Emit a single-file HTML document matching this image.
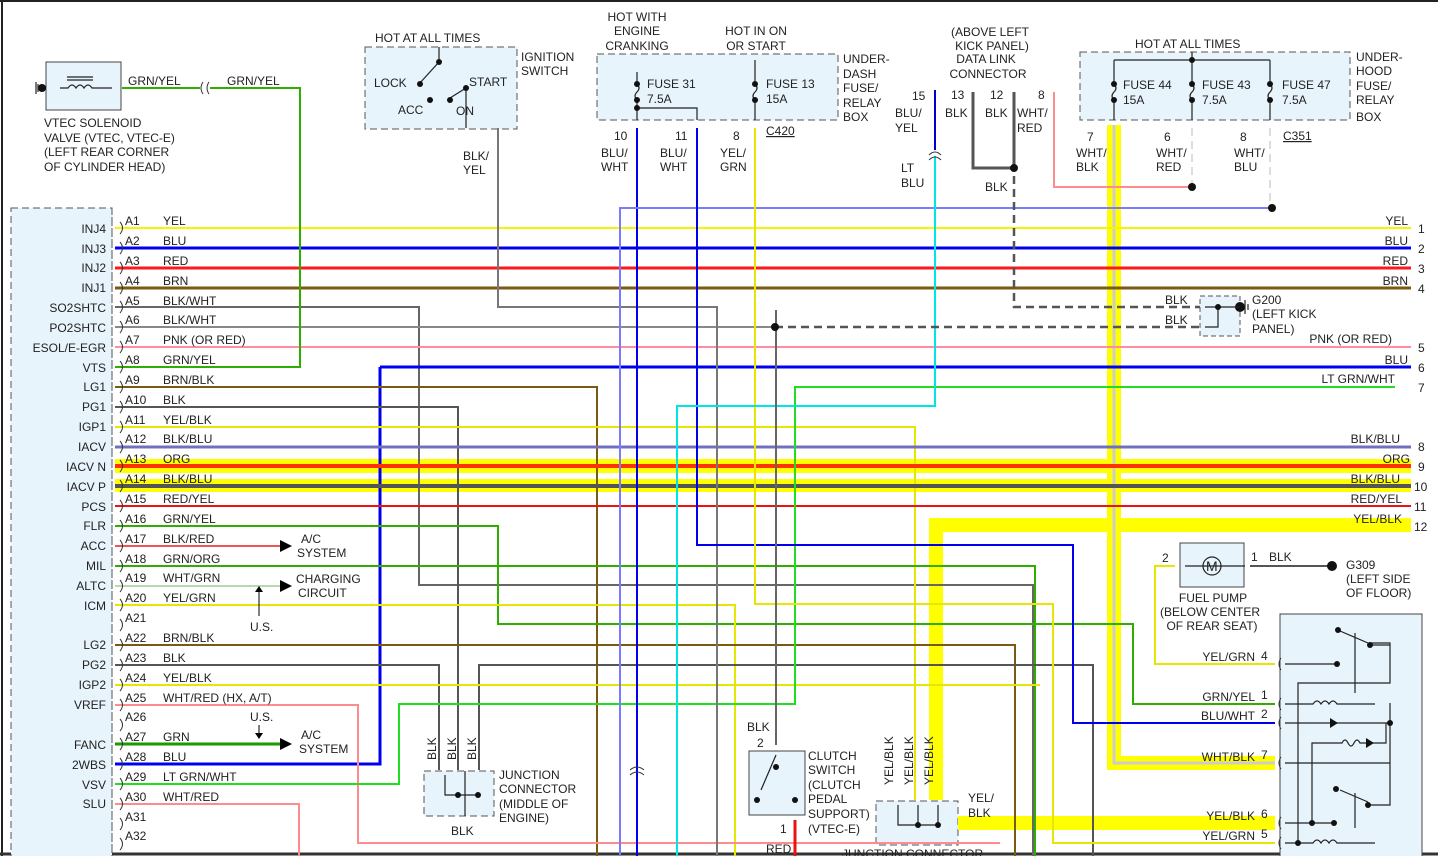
<!DOCTYPE html>
<html><head><meta charset="utf-8"><style>
html,body{margin:0;padding:0;background:#fff}
svg{display:block}
text{font-family:"Liberation Sans",sans-serif;font-size:12px;fill:#222}
.r{text-anchor:end}
.m{text-anchor:middle}
</style></head><body>
<svg width="1438" height="856" viewBox="0 0 1438 856" xmlns="http://www.w3.org/2000/svg">
<rect x="0" y="0" width="1438" height="856" fill="#fff"/>
<line x1="0" y1="1" x2="1438" y2="1" stroke="#222" stroke-width="2"/>
<line x1="2" y1="0" x2="2" y2="856" stroke="#222" stroke-width="2"/>
<line x1="0" y1="854" x2="1438" y2="854" stroke="#333" stroke-width="3"/>

<!-- boxes -->
<rect x="11" y="208" width="101" height="660" fill="#e8f4fc" stroke="#555" stroke-dasharray="7,4"/>
<rect x="46" y="62" width="75" height="48" fill="#e8f4fc" stroke="#444"/>
<rect x="365" y="47" width="152" height="82" fill="#e8f4fc" stroke="#555" stroke-dasharray="7,4"/>
<rect x="597" y="54" width="241" height="66" fill="#e8f4fc" stroke="#555" stroke-dasharray="7,4"/>
<rect x="1080" y="52" width="270" height="68" fill="#e8f4fc" stroke="#555" stroke-dasharray="7,4"/>
<rect x="1200" y="296" width="40" height="40" fill="#e8f4fc" stroke="#555" stroke-dasharray="5,3"/>
<rect x="1180" y="543" width="64" height="44" fill="#e8f4fc" stroke="#444"/>
<rect x="1280" y="614" width="142" height="250" fill="#e8f4fc" stroke="#444"/>
<rect x="424" y="771" width="70" height="45" fill="#e8f4fc" stroke="#555" stroke-dasharray="7,4"/>
<rect x="749" y="751" width="56" height="64" fill="#e8f4fc" stroke="#444"/>
<rect x="876" y="801" width="82" height="44" fill="#e8f4fc" stroke="#555" stroke-dasharray="7,4"/>

<!-- highlighted bands -->
<rect x="115" y="459" width="1296" height="14" fill="#ffff00"/>
<rect x="115" y="479" width="1296" height="13" fill="#ffff00"/>
<rect x="930" y="518" width="481" height="14" fill="#ffff00"/>
<rect x="929" y="518" width="14" height="282" fill="#ffff00"/>
<rect x="958" y="816" width="317" height="14" fill="#ffff00"/>
<rect x="1107" y="125" width="14" height="645" fill="#ffff00"/>
<rect x="1107" y="756" width="168" height="14" fill="#ffff00"/>
<polyline points="1114,125 1114,763 1275,763" fill="none" stroke="#ccc" stroke-width="3"/>

<g fill="none" stroke-width="2">
<line x1="115" y1="228" x2="1411" y2="228" stroke="#f5f500"/>
<line x1="115" y1="248" x2="1411" y2="248" stroke="#0000ee" stroke-width="3"/>
<line x1="115" y1="268" x2="1411" y2="268" stroke="#ff1a1a" stroke-width="3"/>
<line x1="115" y1="288" x2="1411" y2="288" stroke="#7a5a10" stroke-width="3"/>
<polyline points="115,307 419,307 419,585 1033,585 1033,856" stroke="#666"/>
<polyline points="115,327 775,327" stroke="#888"/>
<line x1="115" y1="347" x2="1411" y2="347" stroke="#ff8ca0"/>
<polyline points="115,367 300,367 300,88 210,88" stroke="#2eae00"/>
<line x1="122" y1="88" x2="200" y2="88" stroke="#2eae00"/>
<polyline points="380,367 1411,367" stroke="#0000ee" stroke-width="3"/>
<polyline points="380,367 380,764 115,764" stroke="#0000ee" stroke-width="3"/>
<polyline points="115,387 597,387 597,856" stroke="#7a5a10"/>
<polyline points="115,407 458,407 458,770" stroke="#555"/>
<polyline points="115,427 915,427 915,800" stroke="#e6e600"/>
<line x1="115" y1="447" x2="1411" y2="447" stroke="#7070c0" stroke-width="3"/>
<line x1="115" y1="466" x2="1411" y2="466" stroke="#ff3300" stroke-width="4"/>
<line x1="115" y1="486" x2="1411" y2="486" stroke="#555" stroke-width="4"/>
<line x1="115" y1="506" x2="1411" y2="506" stroke="#ee1111"/>
<polyline points="115,526 498,526 498,624 1133,624 1133,704 1275,704" stroke="#2eae00"/>
<line x1="115" y1="546" x2="280" y2="546" stroke="#e55"/>
<polyline points="115,566 1035,566 1035,856" stroke="#2eae00"/>
<line x1="115" y1="586" x2="280" y2="586" stroke="#b8d8b0"/>
<polyline points="115,605 735,605 735,856" stroke="#e6e600"/>
<polyline points="115,645 1015,645 1015,856" stroke="#7a5a10"/>
<polyline points="115,665 439,665 439,770" stroke="#555"/>
<polyline points="479,770 479,665 1093,665 1093,856" stroke="#555"/>
<polyline points="115,685 1040,685" stroke="#e6e600"/>
<polyline points="115,705 358,705 358,843 1000,843" stroke="#ff8c8c"/>
<line x1="115" y1="744" x2="280" y2="744" stroke="#1a9a00" stroke-width="3"/>
<polyline points="115,784 399,784 399,704 795,704 795,387 1395,387" stroke="#22dd22"/>
<polyline points="115,804 299,804 299,856" stroke="#ff8c8c"/>
<polyline points="498,128 498,307 717,307 717,856" stroke="#777"/>
<line x1="637" y1="128" x2="637" y2="856" stroke="#0000ee"/>
<polyline points="620,856 620,208 1270,208" stroke="#7a7aff"/>
<polyline points="697,128 697,545 1073,545 1073,723 1275,723" stroke="#0000ee"/>
<polyline points="755,128 755,604 1053,604 1053,843 1275,843" stroke="#e6e600"/>
<polyline points="935,90 935,150" stroke="#0000cc"/>
<polyline points="935,156 935,406 677,406 677,856" stroke="#00e5e5"/>
<polyline points="973,92 973,168 1014,168" stroke="#555" stroke-width="3"/>
<polyline points="1014,92 1014,170" stroke="#555" stroke-width="3"/>
<polyline points="1014,176 1014,307 1200,307" stroke="#555" stroke-width="2.5" stroke-dasharray="8,5"/>
<polyline points="775,327 1200,327" stroke="#555" stroke-width="2.5" stroke-dasharray="8,5"/>
<polyline points="1054,92 1054,187 1192,187" stroke="#ff8c8c"/>
<line x1="1192" y1="128" x2="1192" y2="187" stroke="#ddd" stroke-dasharray="8,5"/>
<line x1="1270" y1="128" x2="1270" y2="208" stroke="#ddd" stroke-dasharray="8,5"/>
<polyline points="1175,566 1155,566 1155,664 1275,664" stroke="#e6e600"/>
<line x1="1250" y1="566" x2="1330" y2="566" stroke="#555"/>
<line x1="795" y1="820" x2="795" y2="856" stroke="#ee1111" stroke-width="3"/>
<polyline points="776,310 776,745" stroke="#666"/>
</g>

<g fill="#111">
<circle cx="775" cy="327" r="4"/><circle cx="1014" cy="168" r="4"/><circle cx="1192" cy="187" r="4"/><circle cx="1272" cy="208" r="4"/>
<circle cx="1332" cy="566" r="5"/><circle cx="42" cy="88" r="4"/><circle cx="1240" cy="307" r="5"/>
</g>

<g fill="none" stroke="#333" stroke-width="1">
<path d="M120,222 q5,6 0,12 M120,242 q5,6 0,12 M120,262 q5,6 0,12 M120,282 q5,6 0,12 M120,301 q5,6 0,12 M120,321 q5,6 0,12 M120,341 q5,6 0,12 M120,361 q5,6 0,12 M120,381 q5,6 0,12 M120,401 q5,6 0,12 M120,421 q5,6 0,12 M120,441 q5,6 0,12 M120,460 q5,6 0,12 M120,480 q5,6 0,12 M120,500 q5,6 0,12 M120,520 q5,6 0,12 M120,540 q5,6 0,12 M120,560 q5,6 0,12 M120,580 q5,6 0,12 M120,599 q5,6 0,12 M120,619 q5,6 0,12 M120,639 q5,6 0,12 M120,659 q5,6 0,12 M120,679 q5,6 0,12 M120,699 q5,6 0,12 M120,719 q5,6 0,12 M120,738 q5,6 0,12 M120,758 q5,6 0,12 M120,778 q5,6 0,12 M120,798 q5,6 0,12 M120,818 q5,6 0,12 M120,838 q5,6 0,12"/>
<path d="M203,82 q-4,6 0,12 M209,82 q-4,6 0,12 M929,160 q6,-6 12,0 M929,155 q6,-6 12,0 M630,770 q7,-6 14,0 M630,775 q7,-6 14,0"/>
<path d="M1281,658 q-4,6 0,12 M1281,698 q-4,6 0,12 M1281,717 q-4,6 0,12 M1281,757 q-4,6 0,12 M1281,817 q-4,6 0,12 M1281,837 q-4,6 0,12"/>
<line x1="112" y1="208" x2="112" y2="856" stroke="#555" stroke-dasharray="7,4"/>
</g>
<g fill="#000"><path d="M280,540 l12,6 -12,6z"/><path d="M280,580 l12,6 -12,6z"/><path d="M280,738 l12,6 -12,6z"/>
<path d="M255,592 l4,-6 4,6z"/><path d="M255,733 l4,6 4,-6z"/></g>
<line x1="259" y1="590" x2="259" y2="616" stroke="#000"/><line x1="259" y1="725" x2="259" y2="738" stroke="#000"/>

<g stroke="#222" fill="none" stroke-width="1.2">
<path d="M439,47 v15 l-20,22 M450,98 l16,-10 v40 M67,77 h26 M67,80 h26 M60,88 h8 q4,-6 8,0 q4,-6 8,0 q4,-6 8,0 h20 M36,82 v12 M38,84 v8"/>
<path d="M637,72 v12 q4,4 0,8 q-4,4 0,8 v20 M637,108 h60 v12 M755,60 v24 q4,4 0,8 q-4,4 0,8 v20"/>
<path d="M1114,60 h156 M1192,52 v8 M1114,60 v24 q4,4 0,8 q-4,4 0,8 v20 M1192,60 v24 q4,4 0,8 q-4,4 0,8 v20 M1270,60 v24 q4,4 0,8 q-4,4 0,8 v20"/>
<path d="M1205,307 h35 M1218,307 v20 h-13 M1245,300 v14 M1248,304 v6"/>
<path d="M1185,566 h60"/>
<circle cx="1212" cy="566" r="9"/>
<path d="M1285,664 h50 M1285,704 h28 q4,-6 8,0 q4,-6 8,0 q4,-6 8,0 h38 M1285,723 h105 M1285,763 h105 v-60 M1285,823 h50 M1285,843 h28 q4,-6 8,0 q4,-6 8,0 q4,-6 8,0 h38 M1390,723 v-20 M1390,763 v-60 M1298,843 v-160 h92 v-40 h-20 M1340,631 l28,12 M1340,790 l28,12 M1355,633 v60 M1355,793 v35 M1312,823 v-80 h30 q3,-6 6,0 q3,6 6,0 q3,-6 6,0 h26 v-20 M1368,645 h22 v38 M1368,805 h22 v-42"/>
<path d="M465,771 v45 M445,775 v20 h33 M465,795 v5 M776,755 l-15,35 M898,805 v20 h40 M918,805 v20 M938,805 v20"/>
</g>
<g fill="#111"><circle cx="439" cy="62" r="3"/><circle cx="420" cy="84" r="3"/><circle cx="430" cy="100" r="3"/><circle cx="450" cy="100" r="3"/><circle cx="466" cy="88" r="3"/>
<circle cx="637" cy="84" r="3"/><circle cx="637" cy="100" r="3"/><circle cx="637" cy="108" r="3"/><circle cx="755" cy="84" r="3"/><circle cx="755" cy="100" r="3"/>
<circle cx="1114" cy="84" r="3"/><circle cx="1114" cy="100" r="3"/><circle cx="1192" cy="60" r="3"/><circle cx="1192" cy="84" r="3"/><circle cx="1192" cy="100" r="3"/><circle cx="1270" cy="84" r="3"/><circle cx="1270" cy="100" r="3"/>
<circle cx="1218" cy="307" r="3"/><circle cx="1338" cy="630" r="3"/><circle cx="1370" cy="645" r="3"/><circle cx="1337" cy="664" r="3"/><circle cx="1390" cy="723" r="3"/>
<circle cx="1336" cy="789" r="3"/><circle cx="1368" cy="805" r="3"/><circle cx="1312" cy="823" r="3"/><circle cx="1334" cy="823" r="3"/><circle cx="1298" cy="843" r="3"/>
<circle cx="776" cy="767" r="3"/><circle cx="757" cy="800" r="3"/><circle cx="795" cy="800" r="3"/><circle cx="458" cy="795" r="3"/><circle cx="478" cy="795" r="3"/><circle cx="918" cy="825" r="3"/><circle cx="938" cy="825" r="3"/>
<path d="M1330,718 l8,5 -8,5z M1366,738 l8,5 -8,5z"/></g>
<text x="1206" y="571" style="font-size:14px">M</text>

<g>
<text class="r" x="106" y="233">INJ4</text><text class="r" x="106" y="253">INJ3</text><text class="r" x="106" y="272">INJ2</text><text class="r" x="106" y="292">INJ1</text><text class="r" x="106" y="312">SO2SHTC</text><text class="r" x="106" y="332">PO2SHTC</text><text class="r" x="106" y="352">ESOL/E-EGR</text><text class="r" x="106" y="372">VTS</text><text class="r" x="106" y="391">LG1</text><text class="r" x="106" y="411">PG1</text><text class="r" x="106" y="431">IGP1</text><text class="r" x="106" y="451">IACV</text><text class="r" x="106" y="471">IACV N</text><text class="r" x="106" y="491">IACV P</text><text class="r" x="106" y="511">PCS</text><text class="r" x="106" y="530">FLR</text><text class="r" x="106" y="550">ACC</text><text class="r" x="106" y="570">MIL</text><text class="r" x="106" y="590">ALTC</text><text class="r" x="106" y="610">ICM</text><text class="r" x="106" y="649">LG2</text><text class="r" x="106" y="669">PG2</text><text class="r" x="106" y="689">IGP2</text><text class="r" x="106" y="709">VREF</text><text class="r" x="106" y="749">FANC</text><text class="r" x="106" y="769">2WBS</text><text class="r" x="106" y="789">VSV</text><text class="r" x="106" y="808">SLU</text>
</g>
<g>
<text x="125" y="225">A1</text><text x="163" y="225">YEL</text>
<text x="125" y="245">A2</text><text x="163" y="245">BLU</text>
<text x="125" y="265">A3</text><text x="163" y="265">RED</text>
<text x="125" y="285">A4</text><text x="163" y="285">BRN</text>
<text x="125" y="305">A5</text><text x="163" y="305">BLK/WHT</text>
<text x="125" y="324">A6</text><text x="163" y="324">BLK/WHT</text>
<text x="125" y="344">A7</text><text x="163" y="344">PNK (OR RED)</text>
<text x="125" y="364">A8</text><text x="163" y="364">GRN/YEL</text>
<text x="125" y="384">A9</text><text x="163" y="384">BRN/BLK</text>
<text x="125" y="404">A10</text><text x="163" y="404">BLK</text>
<text x="125" y="424">A11</text><text x="163" y="424">YEL/BLK</text>
<text x="125" y="443">A12</text><text x="163" y="443">BLK/BLU</text>
<text x="125" y="463">A13</text><text x="163" y="463">ORG</text>
<text x="125" y="483">A14</text><text x="163" y="483">BLK/BLU</text>
<text x="125" y="503">A15</text><text x="163" y="503">RED/YEL</text>
<text x="125" y="523">A16</text><text x="163" y="523">GRN/YEL</text>
<text x="125" y="543">A17</text><text x="163" y="543">BLK/RED</text>
<text x="125" y="563">A18</text><text x="163" y="563">GRN/ORG</text>
<text x="125" y="582">A19</text><text x="163" y="582">WHT/GRN</text>
<text x="125" y="602">A20</text><text x="163" y="602">YEL/GRN</text>
<text x="125" y="622">A21</text>
<text x="125" y="642">A22</text><text x="163" y="642">BRN/BLK</text>
<text x="125" y="662">A23</text><text x="163" y="662">BLK</text>
<text x="125" y="682">A24</text><text x="163" y="682">YEL/BLK</text>
<text x="125" y="702">A25</text><text x="163" y="702">WHT/RED (HX, A/T)</text>
<text x="125" y="721">A26</text>
<text x="125" y="741">A27</text><text x="163" y="741">GRN</text>
<text x="125" y="761">A28</text><text x="163" y="761">BLU</text>
<text x="125" y="781">A29</text><text x="163" y="781">LT GRN/WHT</text>
<text x="125" y="801">A30</text><text x="163" y="801">WHT/RED</text>
<text x="125" y="821">A31</text><text x="125" y="840">A32</text>
<text x="301" y="543">A/C</text><text x="297" y="557">SYSTEM</text>
<text x="296" y="583">CHARGING</text><text x="298" y="597">CIRCUIT</text>
<text x="250" y="631">U.S.</text><text x="250" y="721">U.S.</text>
<text x="301" y="739">A/C</text><text x="299" y="753">SYSTEM</text>
</g>
<g>
<text class="r" x="1408" y="225">YEL</text><text x="1418" y="233">1</text>
<text class="r" x="1408" y="245">BLU</text><text x="1418" y="253">2</text>
<text class="r" x="1408" y="265">RED</text><text x="1418" y="273">3</text>
<text class="r" x="1408" y="285">BRN</text><text x="1418" y="293">4</text>
<text class="r" x="1392" y="343">PNK (OR RED)</text><text x="1418" y="352">5</text>
<text class="r" x="1408" y="364">BLU</text><text x="1418" y="372">6</text>
<text class="r" x="1395" y="383">LT GRN/WHT</text><text x="1418" y="392">7</text>
<text class="r" x="1400" y="443">BLK/BLU</text><text x="1418" y="451">8</text>
<text class="r" x="1410" y="463">ORG</text><text x="1418" y="471">9</text>
<text class="r" x="1400" y="483">BLK/BLU</text><text x="1414" y="491">10</text>
<text class="r" x="1402" y="503">RED/YEL</text><text x="1414" y="511">11</text>
<text class="r" x="1402" y="523">YEL/BLK</text><text x="1414" y="531">12</text>
<text x="1165" y="304">BLK</text><text x="1165" y="324">BLK</text>
<text x="1252" y="304">G200</text><text x="1252" y="318">(LEFT KICK</text><text x="1252" y="333">PANEL)</text>
<text x="1162" y="562">2</text><text x="1251" y="561">1</text><text x="1269" y="561">BLK</text>
<text x="1346" y="569">G309</text><text x="1346" y="583">(LEFT SIDE</text><text x="1346" y="597">OF FLOOR)</text>
<text class="m" x="1213" y="602">FUEL PUMP</text><text class="m" x="1210" y="616">(BELOW CENTER</text><text class="m" x="1212" y="630">OF REAR SEAT)</text>
<text class="r" x="1255" y="661">YEL/GRN</text><text x="1261" y="660">4</text>
<text class="r" x="1255" y="701">GRN/YEL</text><text x="1261" y="699">1</text>
<text class="r" x="1255" y="720">BLU/WHT</text><text x="1261" y="718">2</text>
<text class="r" x="1255" y="761">WHT/BLK</text><text x="1261" y="759">7</text>
<text class="r" x="1255" y="820">YEL/BLK</text><text x="1261" y="818">6</text>
<text class="r" x="1255" y="840">YEL/GRN</text><text x="1261" y="838">5</text>
<text x="128" y="85">GRN/YEL</text><text x="227" y="85">GRN/YEL</text>
<text x="44" y="127">VTEC SOLENOID</text><text x="44" y="142">VALVE   (VTEC, VTEC-E)</text><text x="44" y="156">(LEFT REAR CORNER</text><text x="44" y="171">OF CYLINDER HEAD)</text>
<text x="375" y="42">HOT AT ALL TIMES</text><text x="521" y="61">IGNITION</text><text x="521" y="75">SWITCH</text>
<text x="374" y="87">LOCK</text><text x="398" y="114">ACC</text><text x="469" y="86">START</text><text x="456" y="115">ON</text>
<text x="463" y="160">BLK/</text><text x="463" y="174">YEL</text>
<text class="m" x="637" y="21">HOT WITH</text><text class="m" x="637" y="35">ENGINE</text><text class="m" x="637" y="50">CRANKING</text>
<text class="m" x="756" y="35">HOT IN ON</text><text class="m" x="756" y="50">OR START</text>
<text x="647" y="88">FUSE 31</text><text x="647" y="103">7.5A</text><text x="766" y="88">FUSE 13</text><text x="766" y="103">15A</text>
<text x="843" y="63">UNDER-</text><text x="843" y="78">DASH</text><text x="843" y="92">FUSE/</text><text x="843" y="107">RELAY</text><text x="843" y="121">BOX</text>
<text x="614" y="140">10</text><text x="675" y="140">11</text><text x="733" y="140">8</text>
<text x="766" y="135" text-decoration="underline">C420</text>
<text x="601" y="157">BLU/</text><text x="601" y="171">WHT</text><text x="660" y="157">BLU/</text><text x="660" y="171">WHT</text><text x="720" y="157">YEL/</text><text x="720" y="171">GRN</text>
<text class="m" x="990" y="36">(ABOVE LEFT</text><text class="m" x="992" y="50">KICK PANEL)</text><text class="m" x="986" y="63">DATA LINK</text><text class="m" x="988" y="78">CONNECTOR</text>
<text x="912" y="100">15</text><text x="951" y="99">13</text><text x="990" y="99">12</text><text x="1038" y="99">8</text>
<text x="895" y="117">BLU/</text><text x="895" y="132">YEL</text><text x="945" y="117">BLK</text><text x="985" y="117">BLK</text><text x="1017" y="117">WHT/</text><text x="1017" y="132">RED</text>
<text x="901" y="172">LT</text><text x="901" y="187">BLU</text><text x="985" y="191">BLK</text>
<text x="1135" y="48">HOT AT ALL TIMES</text>
<text x="1123" y="89">FUSE 44</text><text x="1123" y="104">15A</text><text x="1202" y="89">FUSE 43</text><text x="1202" y="104">7.5A</text><text x="1282" y="89">FUSE 47</text><text x="1282" y="104">7.5A</text>
<text x="1356" y="61">UNDER-</text><text x="1356" y="75">HOOD</text><text x="1356" y="90">FUSE/</text><text x="1356" y="104">RELAY</text><text x="1356" y="121">BOX</text>
<text x="1087" y="141">7</text><text x="1076" y="157">WHT/</text><text x="1076" y="171">BLK</text>
<text x="1164" y="141">6</text><text x="1156" y="157">WHT/</text><text x="1156" y="171">RED</text>
<text x="1240" y="141">8</text><text x="1234" y="157">WHT/</text><text x="1234" y="171">BLU</text>
<text x="1283" y="140" text-decoration="underline">C351</text>
<text x="499" y="779">JUNCTION</text><text x="499" y="793">CONNECTOR</text><text x="499" y="808">(MIDDLE OF</text><text x="499" y="822">ENGINE)</text>
<text x="451" y="835">BLK</text>
<text transform="translate(436,760) rotate(-90)">BLK</text><text transform="translate(456,760) rotate(-90)">BLK</text><text transform="translate(476,760) rotate(-90)">BLK</text>
<text x="747" y="731">BLK</text><text x="757" y="747">2</text><text x="780" y="833">1</text><text x="766" y="853">RED</text>
<text x="808" y="760">CLUTCH</text><text x="808" y="774">SWITCH</text><text x="808" y="789">(CLUTCH</text><text x="808" y="803">PEDAL</text><text x="808" y="818">SUPPORT)</text><text x="808" y="833">(VTEC-E)</text>
<text transform="translate(893,785) rotate(-90)">YEL/BLK</text><text transform="translate(913,785) rotate(-90)">YEL/BLK</text><text transform="translate(933,785) rotate(-90)">YEL/BLK</text>
<text x="968" y="802">YEL/</text><text x="968" y="817">BLK</text>
<text x="842" y="858">JUNCTION CONNECTOR</text>
</g>
</svg>
</body></html>
